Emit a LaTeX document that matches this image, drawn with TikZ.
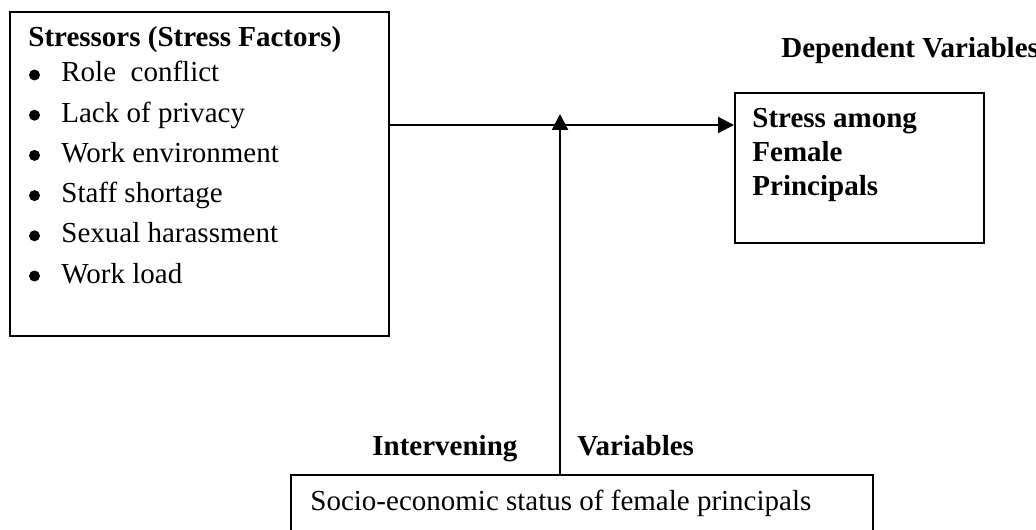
\documentclass[tikz,border=0pt]{standalone}
\usepackage{fontspec}
\setmainfont{Liberation Serif}
\usetikzlibrary{arrows.meta}

\begin{document}
\begin{tikzpicture}[x=0.5pt,y=-0.5pt,
  box/.style={draw,line width=1pt,anchor=north west,inner sep=0pt},
  txt/.style={anchor=base west,inner sep=0pt,font=\fontsize{14.5}{17}\selectfont},
  boldtxt/.style={txt,font=\fontsize{14.5}{17}\selectfont\bfseries},
  dot/.style={circle,fill,inner sep=0pt,minimum size=5.5pt},
  arr/.style={line width=1pt,-{Triangle[length=8pt,width=8pt]}}]
  \useasboundingbox (0,0) rectangle (1036,529);
  % boxes
  \node[box,minimum width=189.5pt,minimum height=162pt] (sbox) at (9,11) {};
  \node[box,minimum width=124.5pt,minimum height=75pt] (dbox) at (734,92) {};
  \node[box,minimum width=291pt,minimum height=60pt] (ibox) at (290,474) {};
  % stressors
  \node[boldtxt] (stitle) at (28,47) {Stressors (Stress Factors)};
  \foreach \lbl [count=\i] in {Role\ \ conflict,Lack of privacy,Work environment,
      Staff shortage,Sexual harassment,Work load}{
    \node[dot] (bul\i) at (34.5,{75+40.2*(\i-1)}) {};
    \node[txt] (item\i) at (61,{82+40.2*(\i-1)}) {\lbl};
  }
  % dependent variable
  \node[boldtxt] (dtitle) at (781,58) {Dependent Variables};
  \foreach \lbl/\yy [count=\i] in {Stress among/128,Female/162,Principals/195}
    \node[boldtxt] (dline\i) at (752,\yy) {\lbl};
  % intervening variable
  \node[boldtxt] (ititle1) at (372,455) {Intervening};
  \node[boldtxt] (ititle2) at (577,455) {Variables};
  \node[txt] (itext) at (310,510) {Socio-economic status of female principals};
  % connectors
  \coordinate (jn) at (560,125);
  \coordinate (jtip) at (560,114);
  \draw[arr] (sbox.east |- jn) -- (dbox.west |- jn);
  \draw[arr] (ibox.north -| jn) -- (jtip);
\end{tikzpicture}
\end{document}
